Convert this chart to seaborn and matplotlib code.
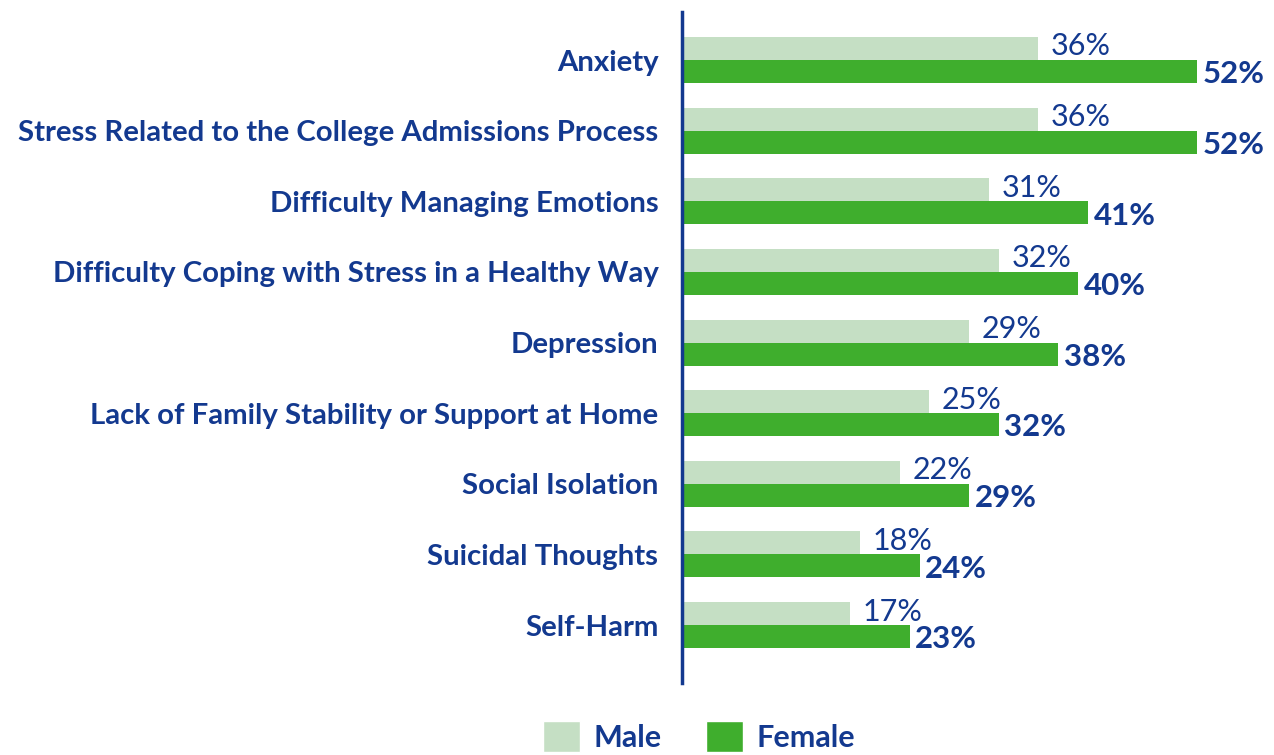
import pandas as pd
import matplotlib.pyplot as plt
import seaborn as sns
from matplotlib.patches import Patch

# Data
categories = [
    'Anxiety',
    'Stress Related to the College Admissions Process',
    'Difficulty Managing Emotions',
    'Difficulty Coping with Stress in a Healthy Way',
    'Depression',
    'Lack of Family Stability or Support at Home',
    'Social Isolation',
    'Suicidal Thoughts',
    'Self-Harm',
]
male = [36, 36, 31, 32, 29, 25, 22, 18, 17]
female = [52, 52, 41, 40, 38, 32, 29, 24, 23]

male_color = '#c5dfc4'
female_color = '#3fae2d'
text_color = '#13398f'

df = pd.DataFrame({
    'issue': categories * 2,
    'pct': male + female,
    'gender': ['Male'] * len(categories) + ['Female'] * len(categories),
})

sns.set_style('white')
plt.rcParams['font.family'] = ['Lato', 'DejaVu Sans']

fig = plt.figure(figsize=(12.74, 7.55), dpi=100)
ax = fig.add_axes([682 / 1274, 1 - 683 / 755, 592 / 1274, 671 / 755])

sns.barplot(data=df, y='issue', x='pct', hue='gender', orient='h',
            palette={'Male': male_color, 'Female': female_color},
            saturation=1, width=0.65, linewidth=0, legend=False, ax=ax)

ax.set_xlim(0, 59.8)
ax.set_ylim(len(categories) - 1 + 0.82, -0.68)

# value labels: male normal (sits a bit high), female bold (a bit low)
for cont, bold in zip(ax.containers, [False, True]):
    labels = [f'{v:.0f}%' for v in cont.datavalues]
    anns = ax.bar_label(cont, labels=labels, padding=4 if bold else 9,
                        color=text_color, fontsize=22.5 if bold else 22,
                        fontweight='bold' if bold else 'normal')
    for a in anns:
        a.xyann = (4, -2) if bold else (9, 1.5)

ax.set_xlabel('')
ax.set_ylabel('')
ax.set_xticks([])
ax.tick_params(axis='y', length=0, pad=17)
for lab in ax.get_yticklabels():
    lab.set_fontweight('bold')
    lab.set_fontsize(21.2)
    lab.set_color(text_color)

for s in ['top', 'right', 'bottom']:
    ax.spines[s].set_visible(False)
ax.spines['left'].set_color(text_color)
ax.spines['left'].set_linewidth(2.5)

handles = [Patch(facecolor=male_color, label='Male'),
           Patch(facecolor=female_color, label='Female')]
leg = fig.legend(handles=handles, loc='upper center', bbox_to_anchor=(0.549, 0.053),
                 ncol=2, frameon=False, handlelength=1.2, handleheight=1.2,
                 columnspacing=1.45, handletextpad=0.45,
                 borderaxespad=0, borderpad=0.2,
                 prop={'weight': 'bold', 'size': 22})
for t in leg.get_texts():
    t.set_color(text_color)

fig.savefig('out.png', dpi=100)
